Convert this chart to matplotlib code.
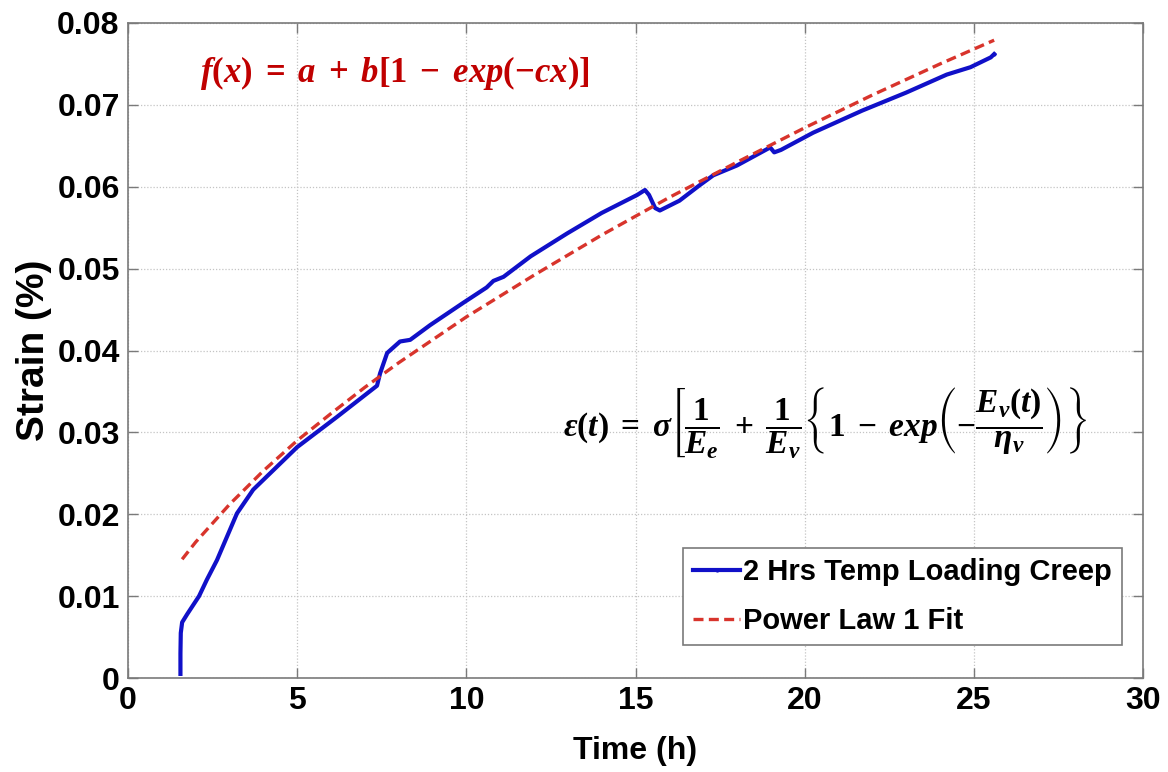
import matplotlib
matplotlib.use("Agg")
import matplotlib.pyplot as plt

# Measured creep strain (blue) and power-law fit (red dashed)
creep_time = [1.55, 1.55, 1.56, 1.60, 1.75, 2.10, 2.33, 2.63, 3.22, 3.70, 4.20, 5.00,
              6.18, 7.36, 7.45, 7.66, 8.04, 8.34, 8.93, 9.90, 10.60, 10.80, 11.10,
              11.90, 12.98, 14.00, 15.05, 15.28, 15.40, 15.58, 15.72, 16.30, 16.90,
              17.30, 18.00, 18.98, 19.10, 19.30, 20.25, 21.70, 23.00, 24.20, 24.90,
              25.50, 25.60]
creep_strain = [0.0005, 0.0030, 0.0055, 0.0068, 0.0078, 0.0100, 0.0120, 0.0144, 0.0201,
                0.0230, 0.0250, 0.0282, 0.0319, 0.0357, 0.0372, 0.0397, 0.0411, 0.0413,
                0.0431, 0.0458, 0.0477, 0.0485, 0.0490, 0.0515, 0.0543, 0.0568, 0.0590,
                0.0596, 0.0590, 0.0574, 0.0571, 0.0583, 0.0602, 0.0614, 0.0626, 0.0648,
                0.0642, 0.0645, 0.0666, 0.0693, 0.0715, 0.0737, 0.0746, 0.0758, 0.0762]

fit_time = [1.6, 2.0, 3.0, 4.0, 5.0, 6.0, 7.0, 8.0, 10.0, 12.0, 14.0, 16.0, 18.0,
            20.0, 22.0, 24.0, 25.6]
fit_strain = [0.0145, 0.0166, 0.0212, 0.0253, 0.0290, 0.0323, 0.0355, 0.0385, 0.0441,
              0.0492, 0.0541, 0.0587, 0.0630, 0.0672, 0.0712, 0.0750, 0.0779]

x_ticks = [0, 5, 10, 15, 20, 25, 30]
y_ticks = [0, 0.01, 0.02, 0.03, 0.04, 0.05, 0.06, 0.07, 0.08]
y_tick_labels = ["0", "0.01", "0.02", "0.03", "0.04", "0.05", "0.06", "0.07", "0.08"]

plt.rcParams["font.family"] = ["Liberation Sans", "DejaVu Sans"]
plt.rcParams["mathtext.fontset"] = "custom"
plt.rcParams["mathtext.rm"] = "Liberation Serif:bold"
plt.rcParams["mathtext.bf"] = "Liberation Serif:bold"
plt.rcParams["mathtext.it"] = "Liberation Serif:bold:italic"
plt.rcParams["mathtext.fallback"] = "stix"

W, H = 1168, 772
fig = plt.figure(figsize=(W / 100, H / 100), dpi=100)
ax = fig.add_axes([128 / W, 1 - 678 / H, (1143 - 128) / W, (678 - 23) / H])

ax.plot(creep_time, creep_strain, color="#1010c8", lw=3.0, marker=".", ms=4,
        markevery=[len(creep_time) - 1], label="2 Hrs Temp Loading Creep", zorder=3)
ax.plot(fit_time, fit_strain, color="#d8342c", lw=2.4, ls=(0, (3, 1.6)),
        label="Power Law 1 Fit", zorder=4)

ax.set_xlim(0, 30)
ax.set_ylim(0, 0.08)
ax.set_xticks(x_ticks)
ax.set_yticks(y_ticks)
ax.set_yticklabels(y_tick_labels)
ax.tick_params(direction="in", length=7, width=1, color="#7a7a7a",
               top=True, right=True, labelsize=23, pad=6)
for lab in ax.get_xticklabels() + ax.get_yticklabels():
    lab.set_fontweight("bold")
ax.grid(True, ls=(0, (1, 1.5)), color="#c4c4c4", lw=0.9)
for sp in ax.spines.values():
    sp.set_color("#7a7a7a")
    sp.set_linewidth(1.2)

ax.set_xlabel("Time (h)", fontsize=23, fontweight="bold", labelpad=14)
ax.set_ylabel("Strain (%)", fontsize=28, fontweight="bold", labelpad=4)

leg = ax.legend(loc="lower right", bbox_to_anchor=(1122 / W, 1 - 645 / H),
                bbox_transform=fig.transFigure, fontsize=21, frameon=True,
                fancybox=False, framealpha=1, edgecolor="#7a7a7a",
                handlelength=1.6, handletextpad=0.1, borderpad=0.35,
                labelspacing=0.7, borderaxespad=0)
leg.get_frame().set_linewidth(1.2)
for t in leg.get_texts():
    t.set_fontweight("bold")

fig.text(200 / W, 1 - 73 / H,
         r"$f(x)\;=\;a\;+\;b[1\;-\;exp(-cx)]$",
         color="#c00000", fontsize=25, va="center", ha="left")
fig.text(563 / W, 1 - 422 / H,
         r"$\varepsilon(t)\;=\;\sigma\left[\dfrac{1}{E_e}\;+\;\dfrac{1}{E_v}"
         r"\left\{1\;-\;exp\left(-\dfrac{E_v(t)}{\eta_v}\right)\right\}\right.$",
         color="black", fontsize=24, va="center", ha="left")

fig.savefig("out.png", dpi=100)
